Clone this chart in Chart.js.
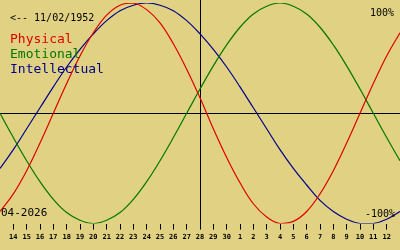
<!DOCTYPE html>
<html>
<head>
<meta charset="utf-8">
<script src="https://cdn.jsdelivr.net/npm/chart.js@4.4.1/dist/chart.umd.min.js"></script>
<style>
  html, body { margin: 0; padding: 0; background: #E1D283; }
  #wrap { width: 400px; height: 250px; }
</style>
</head>
<body>
<div id="wrap"><canvas id="bio"></canvas></div>
<script>
// day labels, 13 April 2026 .. 13 May 2026
var dayLabels = [13, 14, 15, 16, 17, 18, 19, 20, 21, 22, 23, 24, 25, 26, 27, 28, 29, 30,
                 1, 2, 3, 4, 5, 6, 7, 8, 9, 10, 11, 12, 13];
var todayIndex = 15;

// percent values, one per day
var physical = [-89, -73, -52, -27, 0, 27, 52, 73, 89, 98, 100, 94, 82, 63, 40, 14,
                -14, -40, -63, -82, -94, -100, -98, -89, -73, -52, -27, 0, 27, 52, 73];
var emotional = [0, -22, -43, -62, -78, -90, -97, -100, -97, -90, -78, -62, -43, -22, 0, 22,
                 43, 62, 78, 90, 97, 100, 97, 90, 78, 62, 43, 22, 0, -22, -43];
var intellectual = [-50, -33, -14, 5, 24, 42, 58, 72, 84, 93, 98, 100, 98, 93, 84, 72,
                    58, 42, 24, 5, -14, -33, -50, -65, -79, -89, -96, -100, -100, -96, -89];

var birthText = "<-- 11/02/1952";
var monthText = "04-2026";

function toPoints(arr) {
    var pts = [];
    for (var i = 0; i < arr.length; i++) {
        pts.push({ x: i, y: arr[i] });
    }
    return pts;
}

var axesPlugin = {
    id: 'bioAxes',
    beforeDatasetsDraw: function(chart) {
        var ctx = chart.ctx;
        var xs = chart.scales.x, ys = chart.scales.y;
        var y0 = Math.round(ys.getPixelForValue(0)) + 0.5;
        var xt = Math.round(xs.getPixelForValue(todayIndex)) + 0.5;
        ctx.save();
        ctx.strokeStyle = '#000000';
        ctx.lineWidth = 1;
        ctx.beginPath();
        ctx.moveTo(0, y0);
        ctx.lineTo(chart.width, y0);
        ctx.moveTo(xt, 0);
        ctx.lineTo(xt, chart.chartArea.bottom + 4);
        ctx.stroke();
        ctx.restore();
    },
    afterDraw: function(chart) {
        var ctx = chart.ctx;
        ctx.save();
        ctx.textBaseline = 'alphabetic';
        ctx.font = '10px "DejaVu Sans Mono"';
        ctx.fillStyle = '#000000';
        ctx.textAlign = 'left';
        ctx.fillText(birthText, 10, 21);
        ctx.font = '13px "DejaVu Sans Mono"';
        ctx.fillStyle = '#DD0000';
        ctx.fillText('Physical', 10, 43);
        ctx.fillStyle = '#007700';
        ctx.fillText('Emotional', 10, 58);
        ctx.fillStyle = '#00008C';
        ctx.fillText('Intellectual', 10, 73);
        ctx.fillStyle = '#000000';
        ctx.font = '11px "DejaVu Sans Mono"';
        ctx.fillText(monthText, 1, 216);
        ctx.font = '10px "DejaVu Sans Mono"';
        ctx.textAlign = 'right';
        ctx.fillText('100%', 394, 16);
        ctx.fillText('-100%', 395, 217);
        ctx.restore();
    }
};

var chart = new Chart(document.getElementById('bio'), {
    type: 'line',
    data: {
        datasets: [
            { label: 'Physical', data: toPoints(physical), borderColor: '#DD0000' },
            { label: 'Emotional', data: toPoints(emotional), borderColor: '#007700' },
            { label: 'Intellectual', data: toPoints(intellectual), borderColor: '#00008C' }
        ]
    },
    options: {
        responsive: true,
        maintainAspectRatio: false,
        animation: false,
        layout: { padding: { top: 3, bottom: 6, left: 0, right: 0 } },
        elements: {
            line: { borderWidth: 1.2, tension: 0.4, fill: false },
            point: { radius: 0 }
        },
        plugins: { legend: { display: false }, tooltip: { enabled: false } },
        scales: {
            x: {
                type: 'linear',
                min: 0,
                max: dayLabels.length - 1,
                afterBuildTicks: function(axis) {
                    var t = [];
                    for (var i = 1; i < dayLabels.length - 1; i++) t.push({ value: i });
                    axis.ticks = t;
                },
                grid: { drawOnChartArea: false, drawTicks: true, tickLength: 6, color: '#000000' },
                border: { display: false },
                ticks: {
                    autoSkip: false,
                    maxRotation: 0,
                    padding: 3,
                    color: '#000000',
                    font: { family: 'DejaVu Sans Mono', size: 7, weight: 'bold' },
                    callback: function(v) { return String(dayLabels[v]); }
                }
            },
            y: { display: false, min: -100, max: 100 }
        }
    },
    plugins: [axesPlugin]
});
</script>
</body>
</html>
